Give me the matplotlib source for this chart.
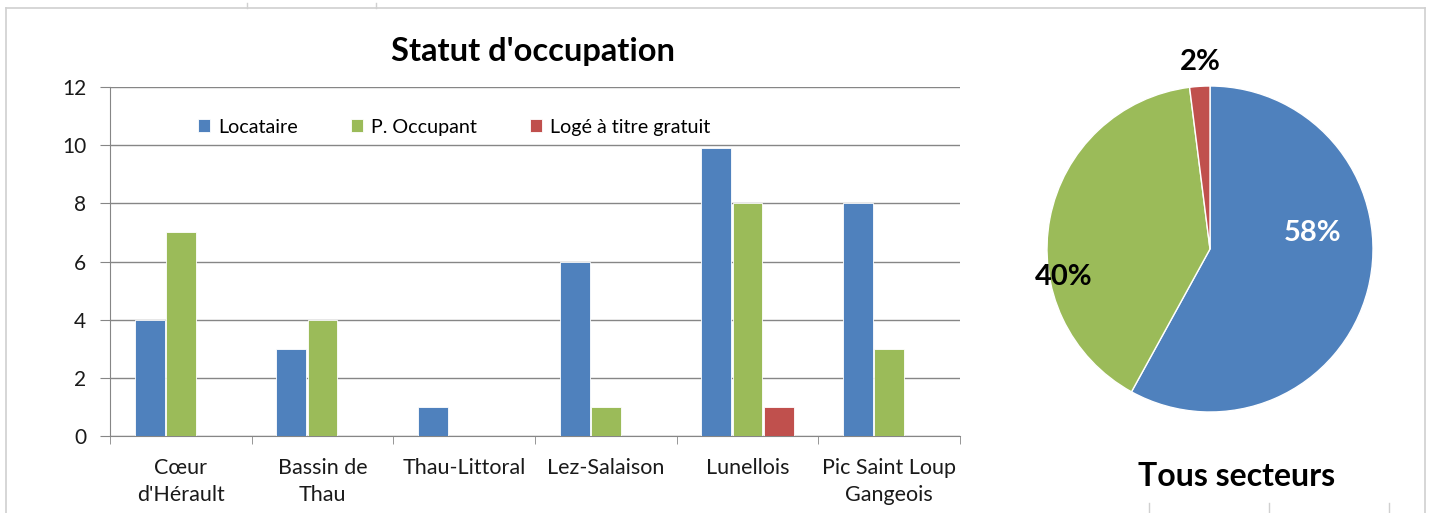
import matplotlib
matplotlib.use('Agg')
import matplotlib.pyplot as plt
import numpy as np
from matplotlib.lines import Line2D

plt.rcParams['font.family'] = ['Lato', 'DejaVu Sans']

# data
secteurs = ["Cœur\nd'Hérault", "Bassin de\nThau", "Thau-Littoral", "Lez-Salaison",
            "Lunellois", "Pic Saint Loup\nGangeois"]
series_names = ["Locataire", "P. Occupant", "Logé à titre gratuit"]
locataire = [4, 3, 1, 6, 9.9, 8]
occupant = [7, 4, 0, 1, 8, 3]
gratuit = [0, 0, 0, 0, 1, 0]
pie_labels = ["58%", "40%", "2%"]
pie_shares = [58, 40, 2]

colors = ['#4F81BD', '#9BBB59', '#C0504D']
grid_col = '#868686'

fig = plt.figure(figsize=(14.35, 5.13), dpi=100)

# outer frame of the chart object
fig.add_artist(Line2D([6/1435, 1425/1435], [1-8/513, 1-8/513], color='#D0D0D0', lw=1.2))
fig.add_artist(Line2D([6/1435, 6/1435], [1-8/513, 0], color='#D0D0D0', lw=1.2))
fig.add_artist(Line2D([1425/1435, 1425/1435], [1-8/513, 0], color='#D0D0D0', lw=1.2))
for px in [247, 376]:
    fig.add_artist(Line2D([px/1435, px/1435], [1-3/513, 1-8/513], color='#D0D0D0', lw=1))
for px in [1149, 1269, 1389]:
    fig.add_artist(Line2D([px/1435, px/1435], [0, 10/513], color='#D0D0D0', lw=1))

# bar chart
ax = fig.add_axes([110/1435, 1-436/513, 850/1435, 349/513])
x = np.arange(len(secteurs))
w = 0.21
for i, (vals, name) in enumerate(zip([locataire, occupant, gratuit], series_names)):
    ax.bar(x + (i - 1) * 0.22, vals, width=w, color=colors[i], label=name,
           edgecolor='white', linewidth=0.6, zorder=3)

ax.set_xlim(-0.5, len(secteurs) - 0.5)
ax.set_ylim(0, 12)
ax.set_yticks(np.arange(0, 13, 2))
ax.yaxis.grid(True, color=grid_col, linewidth=1, zorder=0)
ax.set_axisbelow(True)
for s in ['top', 'right']:
    ax.spines[s].set_visible(False)
for s in ['left', 'bottom']:
    ax.spines[s].set_color(grid_col)
ax.tick_params(axis='y', length=7, color=grid_col, labelsize=15, labelcolor='#1a1a1a', pad=10)
ax.set_xticks(x)
ax.set_xticklabels(secteurs, fontsize=15.5, color='#1a1a1a', linespacing=1.45)
ax.set_xticks(np.arange(-0.5, len(secteurs)), minor=True)
ax.tick_params(axis='x', which='major', length=0, pad=16)
ax.tick_params(axis='x', which='minor', length=6, color=grid_col)

ax.legend(loc='center', bbox_to_anchor=(0.405, 0.885), ncol=3, frameon=False,
          fontsize=14.2, handlelength=0.6, handleheight=0.6, handletextpad=0.4,
          columnspacing=2.7)

fig.text(533/1435, 1-52/513, "Statut d'occupation", fontsize=23.5, fontweight='bold',
         ha='center', va='center')

# pie chart
r = 163
pax = fig.add_axes([(1210-r)/1435, 1-(249+r)/513, 2*r/1435, 2*r/513])
wedges, _ = pax.pie(pie_shares, colors=colors, startangle=90, counterclock=False,
                    radius=1, wedgeprops=dict(edgecolor='white', linewidth=1))
pax.set_xlim(-1, 1)
pax.set_ylim(-1, 1)
pax.set_aspect('equal')
pax.axis('off')
label_pos = [(0.63, 0.10), (-0.90, -0.17), (-0.06, 1.15)]
label_col = ['white', 'black', 'black']
for lab, (lx, ly), c in zip(pie_labels, label_pos, label_col):
    pax.text(lx, ly, lab, color=c, fontsize=21, fontweight='bold', ha='center',
             va='center', clip_on=False)

fig.text(1237/1435, 1-477/513, "Tous secteurs", fontsize=23, fontweight='bold',
         ha='center', va='center')

fig.savefig('out.png', dpi=100)
